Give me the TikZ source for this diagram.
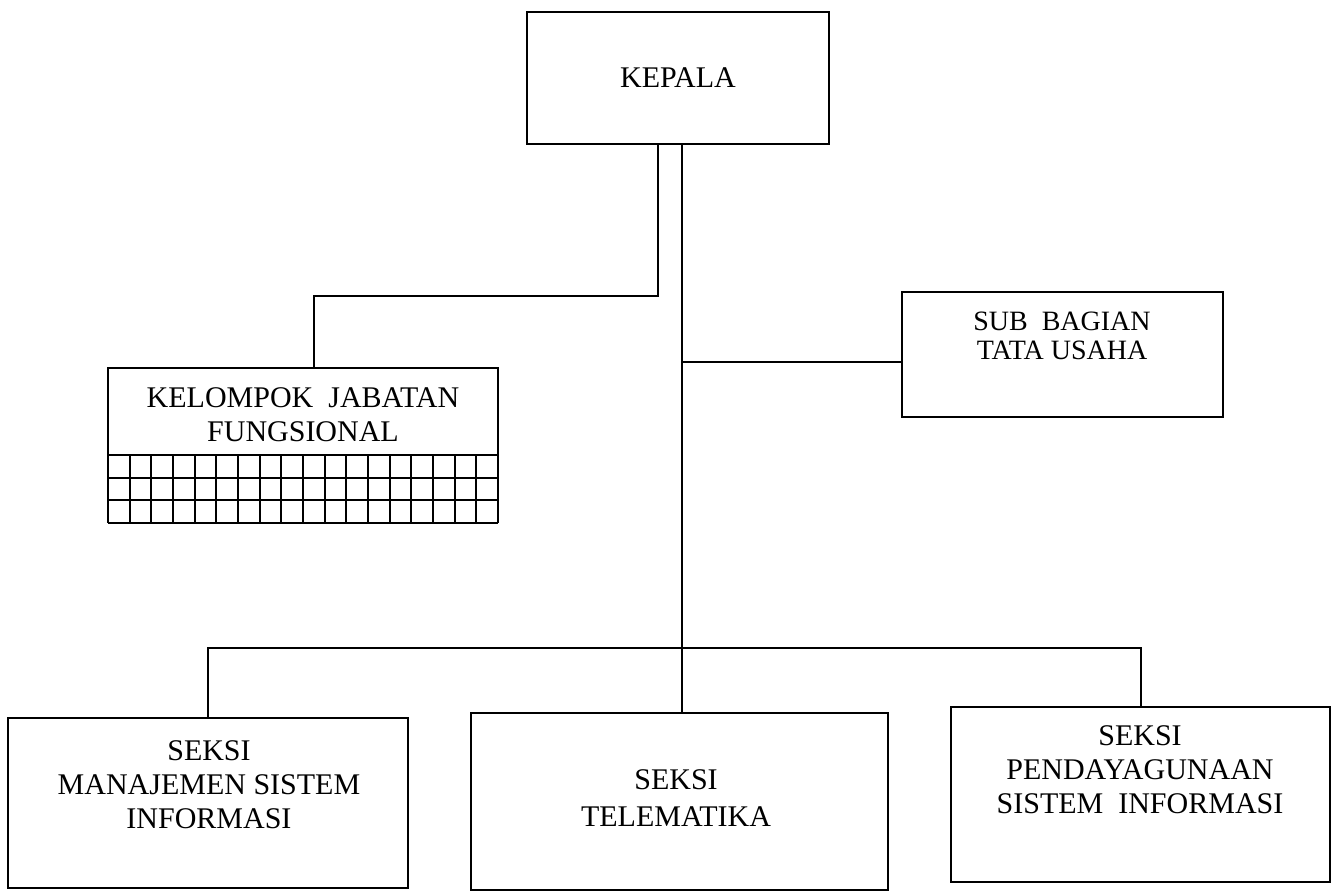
\documentclass[tikz,border=0pt]{standalone}
\usepackage{fontspec}
\setmainfont{Liberation Serif}
\usetikzlibrary{positioning}

\tikzset{
  unit/.style={draw, line width=1pt, inner sep=0pt},
  lbl/.style={align=center, inner sep=0pt, font=\fontsize{15}{17}\selectfont},
  conn/.style={line width=1pt}
}

\begin{document}
\begin{tikzpicture}[x=0.5pt, y=-0.5pt]
    \useasboundingbox (0,0) rectangle (1333,892);

    %Kepala
    \node[unit, minimum width=151pt, minimum height=66pt] (kepala) at (678,78) {};
    \node[lbl] (kepala-lbl) at (kepala.center) {KEPALA};

    %Kelompok jabatan fungsional, with its grid
    \node[unit, minimum width=195pt, minimum height=43.5pt] (kjf) at (303,411.5) {};
    \node[lbl] (kjf-lbl) at (303,415) {KELOMPOK\enspace JABATAN\\FUNGSIONAL};
    \foreach \i in {0,...,18}
        \draw[conn] (108+\i*21.667,455) -- (108+\i*21.667,523);
    \foreach \j in {1,...,3}
        \draw[conn] (108,455+\j*22.667) -- (498,455+\j*22.667);

    %Sub bagian tata usaha
    \node[unit, minimum width=160.5pt, minimum height=62.5pt] (tu) at (1062.5,354.5) {};
    \node[lbl, font=\fontsize{14}{14.5}\selectfont] (tu-lbl) at (1062,336) {SUB\enspace BAGIAN\\TATA USAHA};

    %Seksi
    \node[unit, minimum width=200pt, minimum height=85pt] (sek1) at (208,803) {};
    \node[lbl] (sek1-lbl) at (209,785) {SEKSI\\MANAJEMEN SISTEM\\INFORMASI};
    \node[unit, minimum width=208.5pt, minimum height=88.5pt] (sek2) at (679.5,801.5) {};
    \node[lbl, font=\fontsize{15}{18.5}\selectfont] (sek2-lbl) at (676,798) {SEKSI\\TELEMATIKA};
    \node[unit, minimum width=189.5pt, minimum height=87.5pt] (sek3) at (1140.5,794.5) {};
    \node[lbl] (sek3-lbl) at (1140,770) {SEKSI\\PENDAYAGUNAAN\\SISTEM\enspace INFORMASI};

    %Connectors
    \coordinate (bus) at (682,648);
    \coordinate (jf-turn) at (314,296);
    \draw[conn] (kepala.south -| bus) -- (bus);
    \draw[conn] (kepala.south -| 658,0) |- (jf-turn) -- (jf-turn |- kjf.north);
    \draw[conn] ([yshift=-4pt]tu.west) -- ([yshift=-4pt]tu.west -| bus);
    \draw[conn] (sek1.north) |- (bus) -| (sek3.north);
    \draw[conn] (bus) -- (bus |- sek2.north);

\end{tikzpicture}
\end{document}
